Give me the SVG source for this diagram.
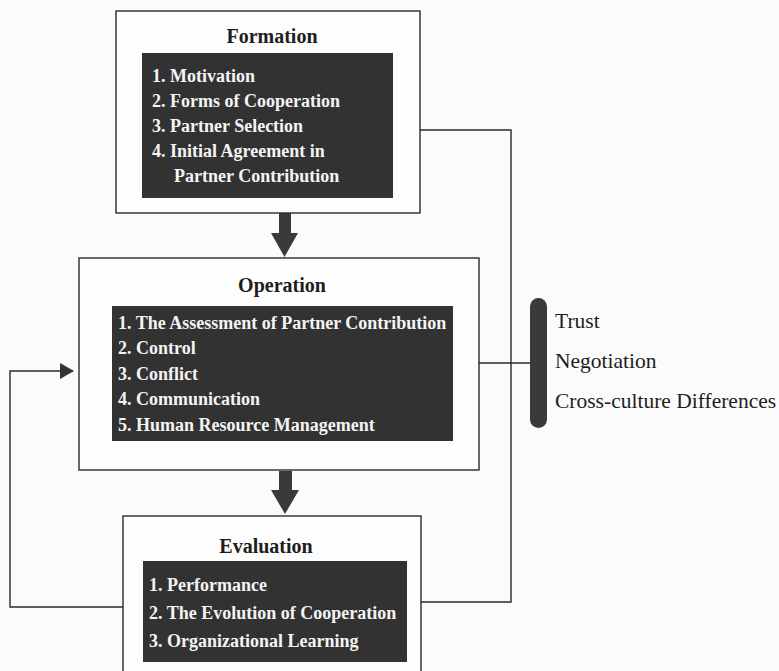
<svg xmlns="http://www.w3.org/2000/svg" width="779" height="671" viewBox="0 0 779 671">
<defs>
<style>
.outer{fill:#fdfdfd;stroke:#2a2a2a;stroke-width:1.4}
.inner{fill:#323232}
.title{font-family:"Liberation Serif","Times New Roman",serif;font-weight:bold;font-size:20px;fill:#1e1e1e;text-anchor:middle}
.item{font-family:"Liberation Serif","Times New Roman",serif;font-weight:bold;font-size:18px;fill:#f4f4f4}
.side{font-family:"Liberation Serif","Times New Roman",serif;font-size:21.5px;fill:#1e1e1e}
.conn{fill:none;stroke:#2a2a2a;stroke-width:1.4}
.big{fill:#3a3a3a}
</style>
<marker id="tri" viewBox="0 0 14 16" refX="13" refY="8" markerWidth="14" markerHeight="16" markerUnits="userSpaceOnUse" orient="auto">
<path d="M0,0 L14,8 L0,16 Z" fill="#333"/>
</marker>
</defs>
<rect width="779" height="671" fill="#fbfbfb"/>

<g id="connectors">
<polyline class="conn" points="420,130 511,130 511,602 421,602"/>
<line class="conn" x1="479" y1="363" x2="531" y2="363"/>
<polyline class="conn" points="123,607 10,607 10,371 73,371" marker-end="url(#tri)"/>
<path class="big" d="M279,213 L291,213 L291,233 L298,233 L284.5,257 L271,233 L279,233 Z"/>
<path class="big" d="M279,471 L292,471 L292,490 L299,490 L285,514 L271,490 L279,490 Z"/>
</g>

<g id="formation">
<rect class="outer" x="116" y="11" width="304" height="202"/>
<text class="title" x="272" y="43">Formation</text>
<rect class="inner" x="142" y="53" width="251" height="145"/>
<text class="item" x="152" y="82">1. Motivation</text>
<text class="item" x="152" y="107">2. Forms of Cooperation</text>
<text class="item" x="152" y="132">3. Partner Selection</text>
<text class="item" x="152" y="157">4. Initial Agreement in</text>
<text class="item" x="174" y="182">Partner Contribution</text>
</g>

<g id="operation">
<rect class="outer" x="79" y="258" width="400" height="212"/>
<text class="title" x="282" y="292">Operation</text>
<rect class="inner" x="112" y="306" width="341" height="135"/>
<text class="item" x="118" y="329">1. The Assessment of Partner Contribution</text>
<text class="item" x="118" y="354">2. Control</text>
<text class="item" x="118" y="380">3. Conflict</text>
<text class="item" x="118" y="405">4. Communication</text>
<text class="item" x="118" y="431">5. Human Resource Management</text>
</g>

<g id="evaluation">
<rect class="outer" x="123" y="516" width="298" height="170"/>
<text class="title" x="266" y="553">Evaluation</text>
<rect class="inner" x="143" y="561" width="264" height="101"/>
<text class="item" x="149" y="591">1. Performance</text>
<text class="item" x="149" y="619">2. The Evolution of Cooperation</text>
<text class="item" x="149" y="647">3. Organizational Learning</text>
</g>

<g id="factors">
<rect x="530" y="298" width="17" height="130" rx="8.5" fill="#3a3a3a"/>
<text class="side" x="555" y="328">Trust</text>
<text class="side" x="555" y="368">Negotiation</text>
<text class="side" x="555" y="408">Cross-culture Differences</text>
</g>
</svg>
